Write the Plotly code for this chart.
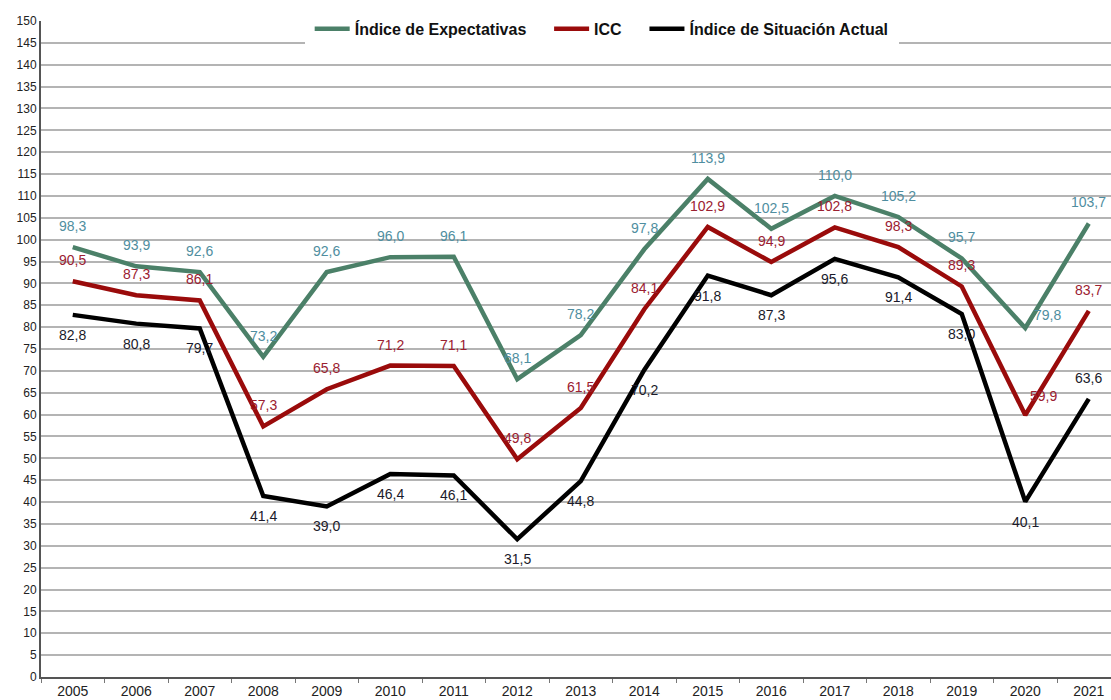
import plotly.graph_objects as go

years = ["2005", "2006", "2007", "2008", "2009", "2010", "2011", "2012", "2013",
         "2014", "2015", "2016", "2017", "2018", "2019", "2020", "2021"]
expectativas = [98.3, 93.9, 92.6, 73.2, 92.6, 96.0, 96.1, 68.1, 78.2, 97.8,
                113.9, 102.5, 110.0, 105.2, 95.7, 79.8, 103.7]
icc = [90.5, 87.3, 86.1, 57.3, 65.8, 71.2, 71.1, 49.8, 61.5, 84.1,
       102.9, 94.9, 102.8, 98.3, 89.3, 59.9, 83.7]
situacion = [82.8, 80.8, 79.7, 41.4, 39.0, 46.4, 46.1, 31.5, 44.8, 70.2,
             91.8, 87.3, 95.6, 91.4, 83.0, 40.1, 63.6]

# label placement per point (style only)
pos_exp = ["up"] * 15 + ["right", "up"]
pos_icc = ["up"] * 15 + ["upright", "up"]
pos_sit = ["down"] * 16 + ["up"]

FONT = "Liberation Sans, Arial, sans-serif"
NB = "\u00a0" * 4
series = [
    ("Índice de Expectativas" + NB, expectativas, "#4b8068", "#4f8ea0", pos_exp),
    ("ICC" + NB, icc, "#9a0b0b", "#9b2030", pos_icc),
    ("Índice de Situación Actual", situacion, "#000000", "#1a1a2a", pos_sit),
]

fig = go.Figure()
annotations = []
for name, vals, lcol, tcol, pos in series:
    fig.add_trace(go.Scatter(x=years, y=vals, mode="lines", name=name,
                             line=dict(color=lcol, width=4.5)))
    for i, (v, p) in enumerate(zip(vals, pos)):
        xs, ys = 0, 0
        if p == "up":
            ys = 21
        elif p == "down":
            ys = -20
        elif p == "right":
            xs, ys = 22, 13
        elif p == "upright":
            xs, ys = 18, 19
        annotations.append(dict(x=i, y=v, xref="x", yref="y",
                                text=f"{v:.1f}".replace(".", ","),
                                showarrow=False, xshift=xs, yshift=ys,
                                font=dict(family=FONT, size=14, color=tcol)))

fig.update_layout(
    width=1111, height=700,
    margin=dict(l=41, r=0, t=21, b=23),
    paper_bgcolor="white", plot_bgcolor="white",
    font=dict(family=FONT, color="#222222"),
    showlegend=True,
    legend=dict(orientation="h", x=0.524, xanchor="center", y=0.988, yanchor="middle",
                bgcolor="white", bordercolor="white", borderwidth=5,
                font=dict(family=FONT, size=16, color="#111111", weight="bold"),
                itemwidth=35, tracegroupgap=0),
    annotations=annotations,
    xaxis=dict(type="category", range=[-0.5, 16.35], tickson="boundaries",
               ticks="outside", ticklen=4, tickcolor="#777777",
               showline=True, linecolor="#555555", linewidth=2,
               showgrid=False, tickfont=dict(family=FONT, size=14, color="#222222")),
    yaxis=dict(range=[0, 150], dtick=5, tick0=0, showgrid=True,
               gridcolor="#b4b4b4", gridwidth=1.8,
               showline=True, linecolor="#555555", linewidth=2,
               zeroline=False, ticks="",
               tickfont=dict(family=FONT, size=12, color="#222222")),
)

fig.write_html("out.html", config={"displayModeBar": False},
               post_script="document.body.style.margin='0';")
